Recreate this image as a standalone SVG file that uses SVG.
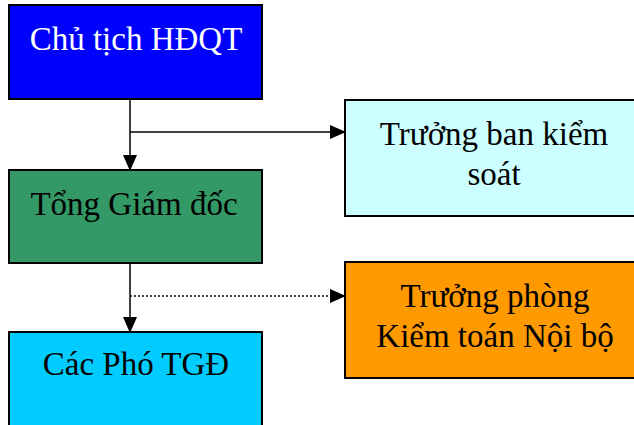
<svg xmlns="http://www.w3.org/2000/svg" width="634" height="425" viewBox="0 0 634 425">
<style>
.box{stroke:#000;stroke-width:2}
.t{font-family:"Liberation Serif","Times New Roman",serif;font-size:33px;text-anchor:middle}
.c{stroke:#000;stroke-width:1.5;fill:none}
</style>
<defs>
<marker id="ahb" markerWidth="16" markerHeight="14" refX="15" refY="7" orient="auto" markerUnits="userSpaceOnUse" viewBox="0 0 16 14">
<path d="M0,0 L16,7 L0,14 z" fill="#000"/>
</marker>
</defs>
<rect width="634" height="425" fill="#fff"/>
<g id="connectors">
<line class="c" x1="130" y1="99" x2="130" y2="170" marker-end="url(#ahb)"/>
<line class="c" x1="130" y1="132" x2="345" y2="132" marker-end="url(#ahb)"/>
<line class="c" x1="130" y1="263" x2="130" y2="332" marker-end="url(#ahb)"/>
<line class="c" x1="130" y1="296" x2="345" y2="296" stroke-dasharray="2,2" marker-end="url(#ahb)"/>
</g>
<g id="chu-tich">
<rect class="box" x="9" y="5" width="253" height="94" fill="#0000FF"/>
<text class="t" x="136" y="50" fill="#fff">Chủ tịch HĐQT</text>
</g>
<g id="tong-giam-doc">
<rect class="box" x="9" y="170" width="253" height="93" fill="#339966"/>
<text class="t" x="134" y="215" fill="#000">Tổng Giám đốc</text>
</g>
<g id="pho-tgd">
<rect class="box" x="9" y="332" width="253" height="100" fill="#00CCFF"/>
<text class="t" x="136" y="375" fill="#000">Các Phó TGĐ</text>
</g>
<g id="ban-kiem-soat">
<rect class="box" x="345" y="100" width="300" height="116" fill="#CCFFFF"/>
<text class="t" x="494" y="145" fill="#000">Trưởng ban kiểm</text>
<text class="t" x="494" y="185" fill="#000">soát</text>
</g>
<g id="kiem-toan">
<rect class="box" x="345" y="262" width="300" height="116" fill="#FF9900"/>
<text class="t" x="495" y="307" fill="#000">Trưởng phòng</text>
<text class="t" x="495" y="347" fill="#000">Kiểm toán Nội bộ</text>
</g>
</svg>
